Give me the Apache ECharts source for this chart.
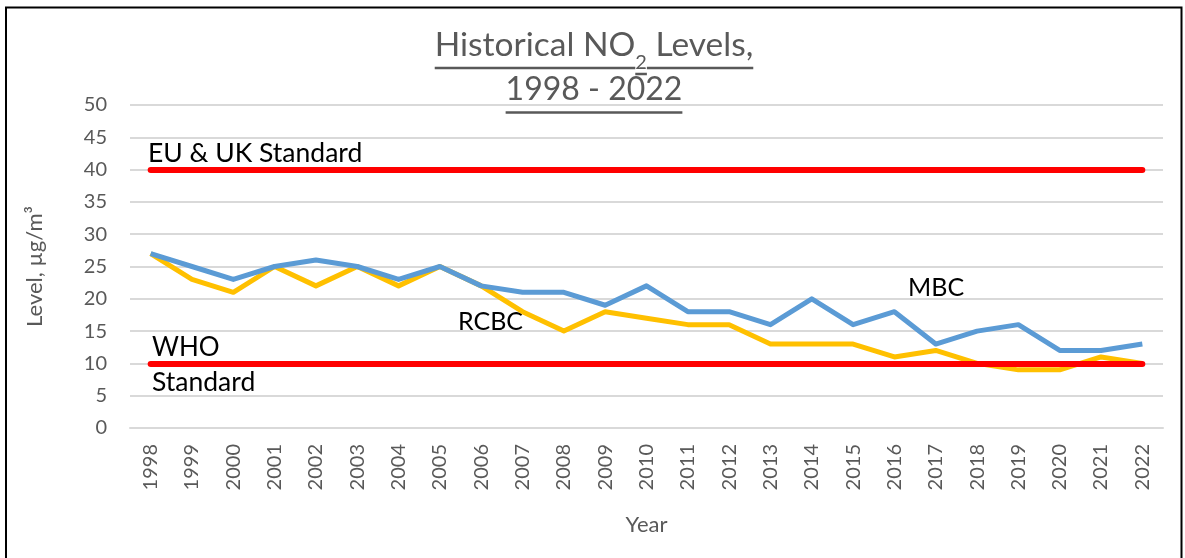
<!DOCTYPE html>
<html>
<head>
<meta charset="utf-8">
<script src="https://cdn.jsdelivr.net/npm/echarts@6/dist/echarts.min.js"></script>
<style>
html,body{margin:0;padding:0;background:#fff;}
#chart{width:1185px;height:558px;}
</style>
</head>
<body>
<div id="chart"></div>
<script>
const years = ['1998','1999','2000','2001','2002','2003','2004','2005','2006','2007','2008','2009','2010','2011','2012','2013','2014','2015','2016','2017','2018','2019','2020','2021','2022'];
const mbc  = [27,25,23,25,26,25,23,25,22,21,21,19,22,18,18,16,20,16,18,13,15,16,12,12,13];
const rcbc = [27,23,21,25,22,25,22,25,22,18,15,18,17,16,16,13,13,13,11,12,10,9,9,11,10];
const euStandard = 40;
const whoStandard = 10;
const yTicks = {min:0, max:50, interval:5};

const FONT = 'Lato, "Open Sans", sans-serif';
const GREY = '#595959';

const chart = echarts.init(document.getElementById('chart'), null, {renderer:'canvas'});

const ctx = document.createElement('canvas').getContext('2d');
function mw(t, size){ ctx.font = size + 'px ' + FONT; return ctx.measureText(t).width; }
const T = 33.5, S = 20, CX = 594;
const p1 = 'Historical NO', p2 = '2', p3 = ' Levels,';
const w1 = mw(p1,T), w2 = mw(p2,S), w3 = mw(p3,T);
const tot = w1+w2+w3;
const sx = CX - tot/2;
const l2 = '1998 - 2022';
const T2 = 32;
const wl2 = mw(l2,T2);

const graphics = [
  {type:'rect', shape:{x:6,y:7.5,width:1175.5,height:560}, style:{fill:'none',stroke:'#000',lineWidth:2}, silent:true},
  {type:'text', x:sx, y:62, style:{text:p1, font:T+'px '+FONT, fill:GREY, align:'left', verticalAlign:'bottom'}},
  {type:'text', x:sx+w1, y:73, style:{text:p2, font:S+'px '+FONT, fill:GREY, align:'left', verticalAlign:'bottom'}},
  {type:'text', x:sx+w1+w2, y:62, style:{text:p3, font:T+'px '+FONT, fill:GREY, align:'left', verticalAlign:'bottom'}},
  {type:'line', shape:{x1:sx, y1:68, x2:sx+w1, y2:68}, style:{stroke:GREY, lineWidth:2.5}},
  {type:'line', shape:{x1:sx+w1, y1:74, x2:sx+w1+w2, y2:74}, style:{stroke:GREY, lineWidth:2.5}},
  {type:'line', shape:{x1:sx+w1+w2, y1:68, x2:sx+tot, y2:68}, style:{stroke:GREY, lineWidth:2.5}},
  {type:'text', x:CX-wl2/2, y:106, style:{text:l2, font:T2+'px '+FONT, fill:GREY, align:'left', verticalAlign:'bottom'}},
  {type:'line', shape:{x1:CX-wl2/2, y1:112.5, x2:CX+wl2/2, y2:112.5}, style:{stroke:GREY, lineWidth:2.5}},
  {type:'text', x:148, y:167, style:{text:'EU & UK Standard', font:'26.5px '+FONT, fill:'#000', align:'left', verticalAlign:'bottom'}},
  {type:'text', x:152, y:361, style:{text:'WHO', font:'26px '+FONT, fill:'#000', align:'left', verticalAlign:'bottom'}},
  {type:'text', x:152, y:396, style:{text:'Standard', font:'26.5px '+FONT, fill:'#000', align:'left', verticalAlign:'bottom'}},
  {type:'text', x:458, y:334, style:{text:'RCBC', font:'25px '+FONT, fill:'#000', align:'left', verticalAlign:'bottom'}},
  {type:'text', x:908, y:300, style:{text:'MBC', font:'25px '+FONT, fill:'#000', align:'left', verticalAlign:'bottom'}}
];

const last = years.length - 1;
const option = {
  animation:false,
  backgroundColor:'#fff',
  grid:{left:130, right:22, top:105, bottom:130, containLabel:false},
  xAxis:{
    type:'category', data:years, boundaryGap:true,
    axisTick:{show:false},
    axisLine:{show:true, lineStyle:{color:'#D9D9D9', width:2}},
    axisLabel:{rotate:90, margin:16, color:GREY, fontSize:20, fontFamily:FONT},
    name:'Year', nameLocation:'middle', nameGap:86,
    nameTextStyle:{color:GREY, fontSize:22, fontFamily:FONT}
  },
  yAxis:{
    type:'value', min:yTicks.min, max:yTicks.max, interval:yTicks.interval,
    axisLine:{show:false}, axisTick:{show:false},
    splitLine:{lineStyle:{color:'#D9D9D9', width:2}},
    axisLabel:{margin:23, color:GREY, fontSize:20, fontFamily:FONT},
    name:'Level, µg/m³', nameLocation:'middle', nameGap:84,
    nameTextStyle:{color:GREY, fontSize:22, fontFamily:FONT}
  },
  series:[
    {name:'RCBC', type:'line', data:rcbc, symbol:'none', z:2,
     lineStyle:{color:'#FFC000', width:5, join:'round'}},
    {name:'MBC', type:'line', data:mbc, symbol:'none', z:3,
     lineStyle:{color:'#5B9BD5', width:5, join:'round'}},
    {name:'Standards', type:'line', data:[], z:4,
     markLine:{silent:true, symbol:['none','none'], label:{show:false},
       lineStyle:{color:'#FF0000', width:6, type:'solid', cap:'round'},
       data:[
         [{coord:[years[0], euStandard]}, {coord:[years[last], euStandard]}],
         [{coord:[years[0], whoStandard]}, {coord:[years[last], whoStandard]}]
       ]}}
  ],
  graphic:graphics
};
chart.setOption(option);
</script>
</body>
</html>
